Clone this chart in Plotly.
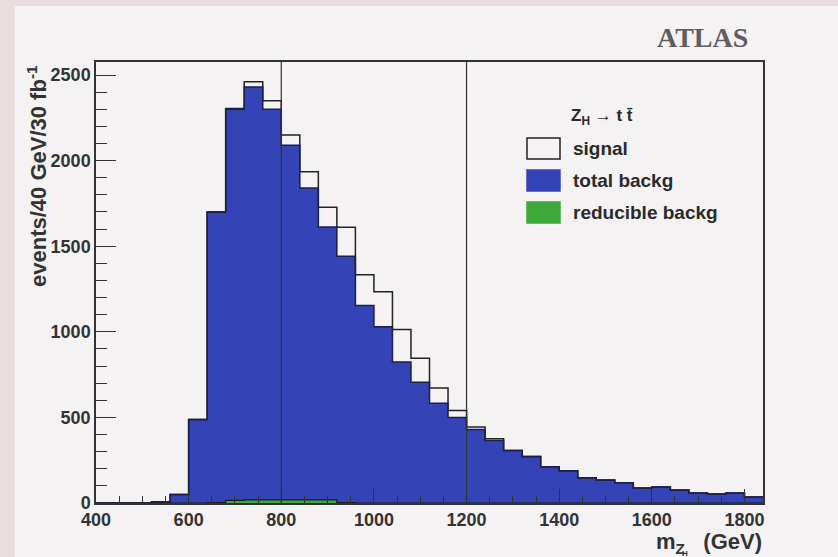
import plotly.graph_objects as go

# ---------------- data ----------------
bin_width = 40
bin_edges = [400 + bin_width * i for i in range(37)]  # 400 ... 1840
total_backg = [0, 0, 0, 8, 50, 488, 1700, 2300, 2430, 2300, 2090, 1840, 1612, 1441,
               1153, 1029, 824, 706, 582, 500, 429, 365, 306, 271, 212, 188, 147,
               135, 118, 88, 94, 76, 59, 53, 59, 35]
signal = [0, 0, 0, 0, 0, 0, 0, 5, 30, 50, 60, 95, 115, 170,
          180, 205, 190, 140, 90, 40, 15, 10, 0, 0, 0, 0, 0,
          0, 0, 0, 0, 0, 0, 0, 0, 0]
reducible_backg = [0, 0, 0, 0, 0, 0, 2, 15, 18, 18, 18, 18, 18, 3,
                   0, 0, 0, 0, 0, 0, 0, 0, 0, 0, 0, 0, 0,
                   0, 0, 0, 0, 0, 0, 0, 0, 0]
cut_lines = [800, 1200]
x_ticks = [400, 600, 800, 1000, 1200, 1400, 1600, 1800]
y_ticks = [0, 500, 1000, 1500, 2000, 2500]

# ---------------- derived ----------------
centers = [e + bin_width / 2 for e in bin_edges[:-1]]
stacked = [b + s for b, s in zip(total_backg, signal)]

BLUE = "rgb(52,68,182)"
GREEN = "rgb(62,170,62)"
BG = "#f4f2f3"
FONT = "Liberation Sans, Arial, sans-serif"

fig = go.Figure()

# signal outline (stacked on background)
fig.add_trace(go.Scatter(x=bin_edges, y=stacked + [stacked[-1]], mode="lines",
                         line=dict(shape="hv", color="#222", width=1.5),
                         hoverinfo="skip", showlegend=False))
# total background fill
fig.add_trace(go.Bar(x=centers, y=total_backg, width=bin_width, marker=dict(color=BLUE, line=dict(width=0)),
                     showlegend=False))
fig.add_trace(go.Scatter(x=bin_edges, y=total_backg + [total_backg[-1]], mode="lines",
                         line=dict(shape="hv", color="#1c1f4a", width=1.5),
                         hoverinfo="skip", showlegend=False))
# reducible background
fig.add_trace(go.Bar(x=centers, y=reducible_backg, width=bin_width, marker=dict(color=GREEN, line=dict(width=0)),
                     showlegend=False))
fig.add_trace(go.Scatter(x=bin_edges, y=reducible_backg + [reducible_backg[-1]], mode="lines",
                         line=dict(shape="hv", color="#1a1a1a", width=1.2),
                         hoverinfo="skip", showlegend=False))

# cut lines
for xv in cut_lines:
    fig.add_shape(type="line", x0=xv, x1=xv, y0=0, y1=1, xref="x", yref="paper",
                  line=dict(color="#333", width=1.2))

# plot area geometry in pixels for paper conversion
L, R, T, B = 96, 763, 62, 503
def px(x):
    return (x - L) / (R - L)
def py(y):
    return (B - y) / (B - T)

# outer background frame
fig.add_shape(type="rect", xref="paper", yref="paper", x0=px(15), x1=px(845), y0=py(6), y1=py(565),
              fillcolor=BG, line=dict(width=0), layer="below")

# legend (drawn manually)
legend_items = [("signal", BG, "#222"), ("total backg", BLUE, BLUE), ("reducible backg", GREEN, GREEN)]
box_tops = [138, 170, 202]
for (label, fill, edge), top in zip(legend_items, box_tops):
    fig.add_shape(type="rect", xref="paper", yref="paper", x0=px(527), x1=px(560),
                  y0=py(top + 21), y1=py(top), fillcolor=fill, line=dict(color=edge, width=1.5))
    fig.add_annotation(x=px(571), y=py(top + 10.5), xref="paper", yref="paper", text="<b>" + label + "</b>",
                       showarrow=False, xanchor="left", yanchor="middle",
                       font=dict(family=FONT, size=19, color="#2a2a2a"))
fig.add_annotation(x=px(569), y=py(117), xref="paper", yref="paper",
                   text="<b>Z<sub>H</sub> → t t\u0304</b>", showarrow=False, xanchor="left", yanchor="middle",
                   font=dict(family=FONT, size=17, color="#2a2a2a"))

# ATLAS label
fig.add_annotation(x=px(702), y=py(37), xref="paper", yref="paper", text="<b>ATLAS</b>",
                   showarrow=False, xanchor="center", yanchor="middle",
                   font=dict(family="Liberation Serif, Times New Roman, serif", size=28, color="#5e5e5e"))

# axis titles
fig.add_annotation(x=px(764), y=py(543), xref="paper", yref="paper",
                   text="<b>m<sub>Z</sub>   (GeV)</b>", showarrow=False, xanchor="right", yanchor="middle",
                   font=dict(family=FONT, size=22, color="#333"))
fig.add_annotation(x=px(37), y=py(176), xref="paper", yref="paper",
                   text="<b>events/40 GeV/30 fb<sup>-1</sup></b>", textangle=-90,
                   showarrow=False, xanchor="center", yanchor="middle",
                   font=dict(family=FONT, size=22, color="#333"))
fig.add_annotation(x=px(680), y=py(553), xref="paper", yref="paper",
                   text="<b>H</b>", showarrow=False, xanchor="left", yanchor="middle",
                   font=dict(family=FONT, size=8, color="#333"))

fig.update_layout(
    width=838, height=557,
    margin=dict(l=L, r=838 - R, t=T, b=557 - B, autoexpand=False),
    paper_bgcolor="#e9dde0", plot_bgcolor=BG,
    bargap=0, barmode="overlay",
    showlegend=False,
    font=dict(family=FONT, size=18, color="#333"),
)
fig.update_xaxes(range=[400, 1840], tickvals=x_ticks, ticks="inside", ticklen=14, tickwidth=1.2,
                 tickcolor="#333", showline=True, linecolor="#333", linewidth=1.5, mirror=True,
                 showgrid=False, zeroline=False,
                 minor=dict(dtick=50, tick0=400, ticks="inside", ticklen=7, tickcolor="#333", showgrid=False),
                 tickfont=dict(family=FONT, size=18, color="#333", weight="bold"))
fig.update_yaxes(range=[0, 2576], tickvals=y_ticks, ticks="inside", ticklen=20, tickwidth=1.2,
                 tickcolor="#333", showline=True, linecolor="#333", linewidth=1.5, mirror=True,
                 showgrid=False, zeroline=False,
                 minor=dict(dtick=100, tick0=0, ticks="inside", ticklen=11, tickcolor="#333", showgrid=False),
                 tickfont=dict(family=FONT, size=18, color="#333", weight="bold"))

fig.write_html("out.html", config={"displayModeBar": False},
               post_script="document.body.style.margin='0';")
